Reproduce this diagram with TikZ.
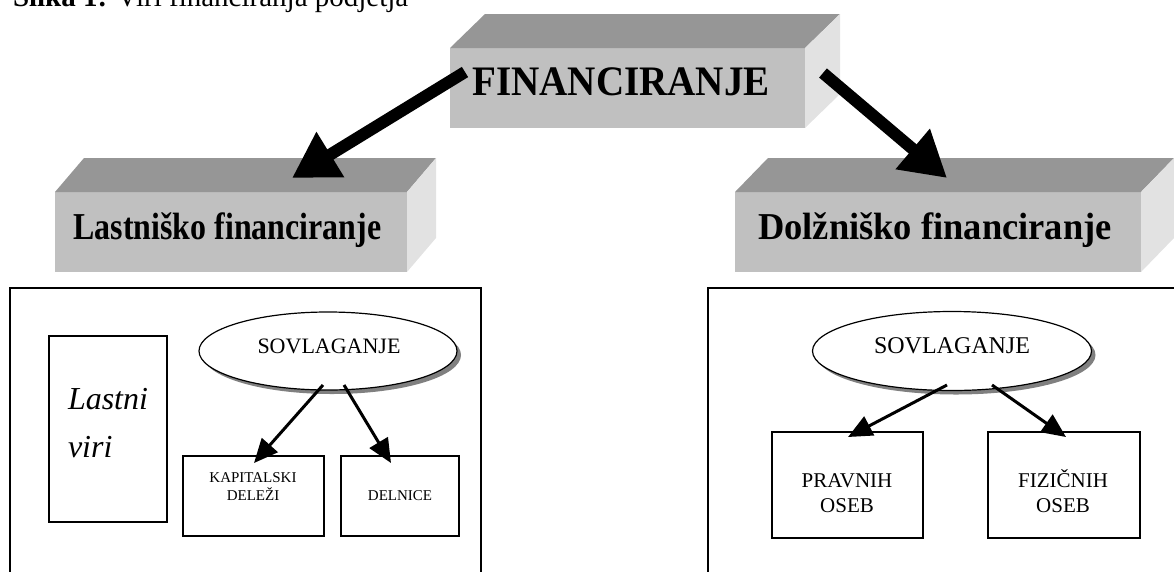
\documentclass[tikz,border=0pt]{standalone}
\usepackage{fontspec}
\setmainfont{Liberation Serif}
\usetikzlibrary{arrows.meta,shapes.geometric,shadows}
\definecolor{frontgray}{HTML}{C0C0C0}
\definecolor{topgray}{HTML}{969696}
\definecolor{sidegray}{HTML}{E2E2E2}
\begin{document}
\begin{tikzpicture}[x=1pt,y=-1pt,
  face/.style={fill=frontgray,draw=none,inner sep=0pt,outer sep=0pt,anchor=north west},
  topface/.style={fill=topgray},
  sideface/.style={fill=sidegray},
  bigarrow/.style={line width=12pt,-{Triangle[length=45pt,width=50pt]}},
  smallarrow/.style={line width=3pt,-{Triangle[length=24pt,width=21pt]}},
  frame/.style={draw,line width=1.3pt,inner sep=0pt,outer sep=0pt,anchor=north west},
  smallbox/.style={draw,line width=1.3pt,inner sep=0pt,outer sep=0pt,anchor=north west},
  oval/.style={ellipse,draw,line width=1.2pt,fill=white,inner sep=0pt,
    drop shadow={shadow xshift=4pt,shadow yshift=-4pt,fill=black!50,opacity=1}},
  txt/.style={inner sep=0pt,outer sep=0pt,anchor=base}
]
\useasboundingbox (0,0) rectangle (1174,571);

% caption (cut off at the top)
\node[txt,anchor=base west] (cap) at (13,6) {\fontsize{29}{32}\selectfont\textbf{Slika 1:} Viri financiranja podjetja};

% FINANCIRANJE block
\node[face,minimum width=355pt,minimum height=80pt] (fin) at (450,48) {};
\fill[topface] (fin.north west) -- ++(35,-34) -- ++(355,0) -- (fin.north east) -- cycle;
\fill[sideface] (fin.north east) -- ++(35,-34) -- ++(0,80) -- (fin.south east) -- cycle;
\node[txt] (finT) at (621,95) {\scalebox{0.93}[1]{\fontsize{42}{48}\selectfont\bfseries FINANCIRANJE}};

% Lastnisko block
\node[face,minimum width=352pt,minimum height=80pt] (las) at (55,192) {};
\fill[topface] (las.north west) -- ++(29,-34) -- ++(352,0) -- (las.north east) -- cycle;
\fill[sideface] (las.north east) -- ++(29,-34) -- ++(0,80) -- (las.south east) -- cycle;
\node[txt] (lasT) at (227.5,239) {\scalebox{0.84}[1]{\fontsize{38}{44}\selectfont\bfseries Lastniško financiranje}};

% Dolznisko block
\node[face,minimum width=406pt,minimum height=80pt] (dol) at (735,192) {};
\fill[topface] (dol.north west) -- ++(33,-34) -- ++(406,0) -- (dol.north east) -- cycle;
\fill[sideface] (dol.north east) -- ++(33,-34) -- ++(0,80) -- (dol.south east) -- cycle;
\node[txt] (dolT) at (935,239) {\scalebox{0.96}[1]{\fontsize{38}{44}\selectfont\bfseries Dolžniško financiranje}};

% big arrows
\coordinate (b1s) at (465,72);
\coordinate (b1e) at (292,178);
\coordinate (b2s) at (823,73);
\coordinate (b2e) at (947,178);
\draw[bigarrow] (b1s) -- (b1e);
\draw[bigarrow] (b2s) -- (b2e);

% frames
\node[frame,minimum width=471pt,minimum height=320pt] (lframe) at (10,288) {};
\node[frame,minimum width=480pt,minimum height=320pt] (rframe) at (708,288) {};

% left frame content
\node[smallbox,minimum width=118pt,minimum height=186pt] (viri) at (49,336) {};
\node[txt,anchor=base west] (viri1) at (68,409) {\fontsize{32}{40}\selectfont\itshape Lastni};
\node[txt,anchor=base west] (viri2) at (68,457) {\fontsize{32}{40}\selectfont\itshape viri};

\node[oval,minimum width=258pt,minimum height=78pt] (e1) at (328,351) {};
\node[txt] (e1T) at (329,353) {\fontsize{22}{26}\selectfont SOVLAGANJE};

\node[smallbox,minimum width=141pt,minimum height=80pt] (kap) at (183,456) {};
\node[txt] (kap1) at (253,482) {\fontsize{15}{18}\selectfont KAPITALSKI};
\node[txt] (kap2) at (253,500) {\fontsize{15}{18}\selectfont DELEŽI};

\node[smallbox,minimum width=118pt,minimum height=80pt] (del) at (341,456) {};
\node[txt] (delT) at (400,500) {\fontsize{15}{18}\selectfont DELNICE};

\coordinate (s1s) at (323,385);
\coordinate (s1e) at (254,463);
\coordinate (s2s) at (344,385);
\coordinate (s2e) at (391,463);
\draw[smallarrow] (s1s) -- (s1e);
\draw[smallarrow] (s2s) -- (s2e);

% right frame content
\node[oval,minimum width=279pt,minimum height=79pt] (e2) at (952,351) {};
\node[txt] (e2T) at (952,353) {\fontsize{24}{28}\selectfont SOVLAGANJE};

\node[smallbox,minimum width=151pt,minimum height=106pt] (prav) at (772,432) {};
\node[txt] (prav1) at (847,487) {\fontsize{21}{25}\selectfont PRAVNIH};
\node[txt] (prav2) at (847,512) {\fontsize{21}{25}\selectfont OSEB};

\node[smallbox,minimum width=152pt,minimum height=106pt] (fiz) at (988,432) {};
\node[txt] (fiz1) at (1063,487) {\fontsize{21}{25}\selectfont FIZIČNIH};
\node[txt] (fiz2) at (1063,512) {\fontsize{21}{25}\selectfont OSEB};

\coordinate (r1s) at (947,385);
\coordinate (r1e) at (848,437);
\coordinate (r2s) at (992,385);
\coordinate (r2e) at (1066,437);
\draw[smallarrow] (r1s) -- (r1e);
\draw[smallarrow] (r2s) -- (r2e);
\end{tikzpicture}
\end{document}
